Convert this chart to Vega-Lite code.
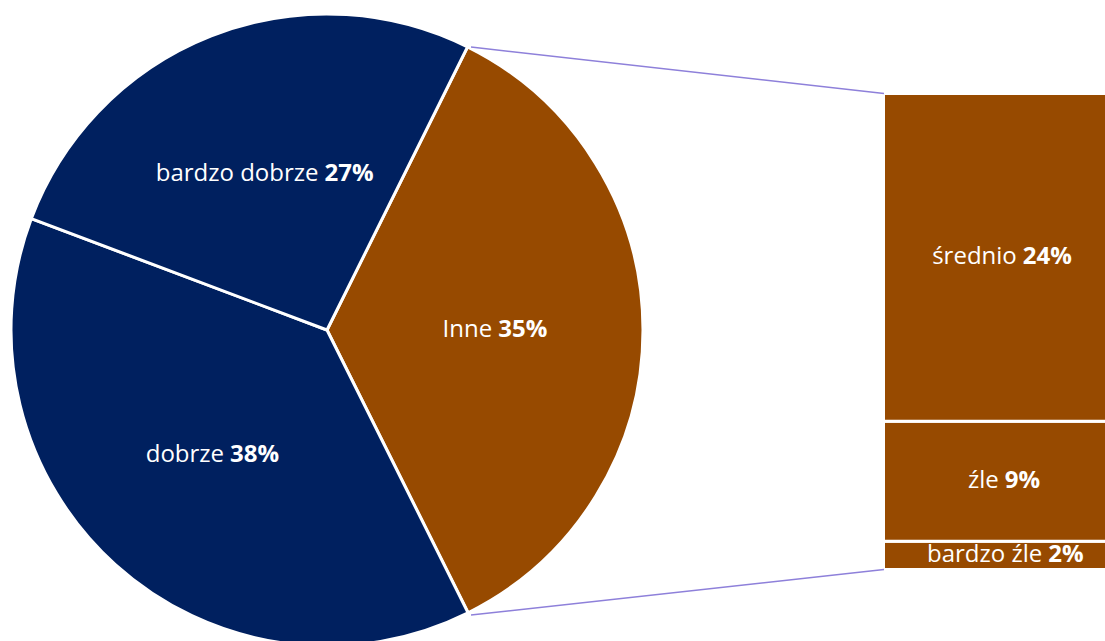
{
  "$schema": "https://vega.github.io/schema/vega-lite/v6.json",
  "width": 1105,
  "height": 641,
  "autosize": {"type": "none"},
  "padding": 0,
  "background": "white",
  "config": {"view": {"stroke": null}, "font": "Open Sans"},
  "datasets": {
    "pie": [
      {"kat": "Inne", "value": 35.3, "ord": 1},
      {"kat": "dobrze", "value": 38.1, "ord": 2},
      {"kat": "bardzo dobrze", "value": 26.6, "ord": 3}
    ],
    "inne": [
      {"kat": "bardzo źle", "value": 2.1, "ord": 1},
      {"kat": "źle", "value": 8.9, "ord": 2},
      {"kat": "średnio", "value": 24.3, "ord": 3}
    ]
  },
  "layer": [
    {
      "data": {"name": "pie"},
      "mark": {"type": "arc", "outerRadius": 316, "stroke": "white", "strokeWidth": 3},
      "encoding": {
        "x": {"value": 327},
        "y": {"value": 330},
        "theta": {"field": "value", "type": "quantitative", "stack": true, "scale": {"range": [0.4608, 6.744]}},
        "order": {"field": "ord", "type": "quantitative"},
        "color": {"field": "kat", "type": "nominal", "legend": null,
          "scale": {"domain": ["Inne", "dobrze", "bardzo dobrze"], "range": ["#974A00", "#00205F", "#00205F"]}}
      }
    },
    {
      "data": {"name": "pie"},
      "mark": {"type": "text", "radius": 168, "align": "right", "baseline": "middle", "color": "white", "fontSize": 24,
        "dx": {"expr": "(length(datum.kat)*12.4 - 6 - (length(format(datum.value,'.0f'))*13.7 + 21.8))/2"}},
      "encoding": {
        "x": {"value": 327},
        "y": {"value": 330},
        "theta": {"field": "value", "type": "quantitative", "stack": true},
        "order": {"field": "ord", "type": "quantitative"},
        "text": {"field": "kat", "type": "nominal"}
      }
    },
    {
      "data": {"name": "pie"},
      "mark": {"type": "text", "radius": 168, "align": "left", "baseline": "middle", "color": "white", "fontSize": 24, "fontWeight": "bold",
        "dx": {"expr": "(length(datum.kat)*12.4 + 6 - (length(format(datum.value,'.0f'))*13.7 + 21.8))/2"},
        "text": {"expr": "format(datum.value,'.0f') + '%'"}},
      "encoding": {
        "x": {"value": 327},
        "y": {"value": 330},
        "theta": {"field": "value", "type": "quantitative", "stack": true},
        "order": {"field": "ord", "type": "quantitative"}
      }
    },
    {
      "data": {"name": "inne"},
      "transform": [
        {"stack": "value", "groupby": [], "sort": [{"field": "ord", "order": "ascending"}], "as": ["y0", "y1"]}
      ],
      "mark": {"type": "bar", "stroke": "white", "strokeWidth": 3, "color": "#974A00"},
      "encoding": {
        "x": {"value": 883.5},
        "x2": {"value": 1106.5},
        "y": {"field": "y0", "type": "quantitative", "axis": null, "scale": {"domain": [-5.302, 42.23], "nice": false, "zero": false}},
        "y2": {"field": "y1"}
      }
    },
    {
      "data": {"name": "inne"},
      "transform": [
        {"stack": "value", "groupby": [], "sort": [{"field": "ord", "order": "ascending"}], "as": ["y0", "y1"]}
      ],
      "mark": {"type": "text", "align": "right", "baseline": "middle", "color": "white", "fontSize": 24,
        "dx": {"expr": "(length(datum.kat)*12.4 - 6 - (length(format(datum.value,'.0f'))*13.7 + 21.8))/2"},
        "dy": {"expr": "(scale('y', datum.y0) - scale('y', datum.y1))/2"}},
      "encoding": {
        "x": {"value": 1001},
        "y": {"field": "y1", "type": "quantitative", "axis": null},
        "text": {"field": "kat", "type": "nominal"}
      }
    },
    {
      "data": {"name": "inne"},
      "transform": [
        {"stack": "value", "groupby": [], "sort": [{"field": "ord", "order": "ascending"}], "as": ["y0", "y1"]}
      ],
      "mark": {"type": "text", "align": "left", "baseline": "middle", "color": "white", "fontSize": 24, "fontWeight": "bold",
        "dx": {"expr": "(length(datum.kat)*12.4 + 6 - (length(format(datum.value,'.0f'))*13.7 + 21.8))/2"},
        "dy": {"expr": "(scale('y', datum.y0) - scale('y', datum.y1))/2"},
        "text": {"expr": "format(datum.value,'.0f') + '%'"}},
      "encoding": {
        "x": {"value": 1001},
        "y": {"field": "y1", "type": "quantitative", "axis": null}
      }
    },
    {
      "data": {"name": "inne"},
      "transform": [
        {"stack": "value", "groupby": [], "sort": [{"field": "ord", "order": "ascending"}], "as": ["y0", "y1"]},
        {"filter": "datum.ord == 3"}
      ],
      "mark": {"type": "rule", "color": "#8E80DA", "strokeWidth": 1.5},
      "encoding": {
        "x": {"value": 884},
        "y": {"field": "y1", "type": "quantitative", "axis": null},
        "x2": {"value": 471},
        "y2": {"value": 47}
      }
    },
    {
      "data": {"name": "inne"},
      "transform": [
        {"stack": "value", "groupby": [], "sort": [{"field": "ord", "order": "ascending"}], "as": ["y0", "y1"]},
        {"filter": "datum.ord == 1"}
      ],
      "mark": {"type": "rule", "color": "#8E80DA", "strokeWidth": 1.5},
      "encoding": {
        "x": {"value": 884},
        "y": {"field": "y0", "type": "quantitative", "axis": null},
        "x2": {"value": 471},
        "y2": {"value": 615}
      }
    }
  ]
}
